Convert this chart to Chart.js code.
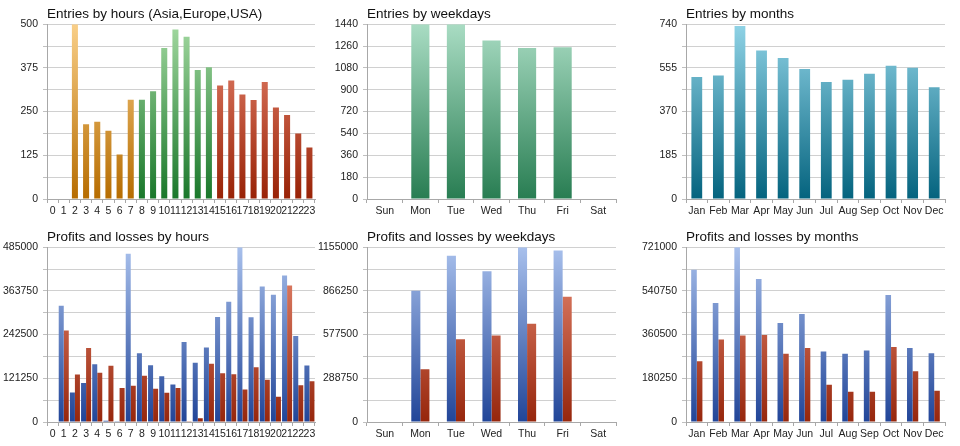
<!DOCTYPE html>
<html>
<head>
<meta charset="utf-8">
<script src="https://cdn.jsdelivr.net/npm/chart.js@4/dist/chart.umd.min.js"></script>
<style>
    body { margin: 0; background: #fff; }
    .panel { position: absolute; }
</style>
</head>
<body>
<div class="panel" style="left:0;top:0;width:320px;height:223px"><canvas id="hoursEntries"></canvas></div>
<div class="panel" style="left:310px;top:0;width:320px;height:223px"><canvas id="weekdaysEntries"></canvas></div>
<div class="panel" style="left:630px;top:0;width:330px;height:223px"><canvas id="monthsEntries"></canvas></div>
<div class="panel" style="left:0;top:223px;width:320px;height:223px"><canvas id="hoursPL"></canvas></div>
<div class="panel" style="left:310px;top:223px;width:320px;height:223px"><canvas id="weekdaysPL"></canvas></div>
<div class="panel" style="left:630px;top:223px;width:330px;height:223px"><canvas id="monthsPL"></canvas></div>
<script>
const hourLabels = ['0','1','2','3','4','5','6','7','8','9','10','11','12','13','14','15','16','17','18','19','20','21','22','23'];
const weekdayLabels = ['Sun','Mon','Tue','Wed','Thu','Fri','Sat'];
const monthLabels = ['Jan','Feb','Mar','Apr','May','Jun','Jul','Aug','Sep','Oct','Nov','Dec'];

// which region each hour belongs to (Asia, Europe, USA)
const hourRegion = ['asia','asia','asia','asia','asia','asia','asia','asia',
    'europe','europe','europe','europe','europe','europe','europe',
    'usa','usa','usa','usa','usa','usa','usa','usa','usa'];

const hourEntries = [0, 0, 500, 214, 221, 195, 127, 284, 284, 308, 432, 485, 464, 369, 377, 325, 339, 299, 283, 335, 262, 240, 187, 147];
const weekdayEntries = [0, 1440, 1440, 1306, 1243, 1251, 0];
const monthEntries = [516, 523, 732, 629, 597, 550, 495, 505, 530, 564, 556, 473];

const hourProfits = [0, 322700, 82000, 107900, 160400, 3700, 1800, 466600, 190900, 157700, 127200, 104200, 222200, 164100, 206500, 291400, 333800, 485000, 290400, 376200, 353100, 406600, 238800, 156700];
const hourLosses = [0, 253600, 131900, 205600, 136500, 155800, 94000, 100500, 128200, 92200, 81100, 94000, 500, 10100, 161400, 135500, 132800, 90400, 152100, 117100, 70100, 379000, 102300, 113400];

const weekdayProfits = [0, 867400, 1097900, 996900, 1155000, 1133000, 0];
const weekdayLosses = [0, 349100, 546800, 570900, 650000, 827800, 0];

const monthProfits = [627800, 490700, 721000, 589400, 408500, 445500, 290600, 281000, 294700, 523600, 305700, 283700];
const monthLosses = [250800, 340000, 356400, 359100, 281000, 305700, 153500, 124700, 124700, 309800, 209700, 128800];

const fontFamily = "'Liberation Sans', Arial, sans-serif";

function vGrad(chart, top, bottom) {
    const a = chart.chartArea;
    if (!a) return bottom;
    const g = chart.ctx.createLinearGradient(0, a.top, 0, a.bottom);
    g.addColorStop(0, top);
    g.addColorStop(1, bottom);
    return g;
}

const palette = {
    asia: ['#f9cf88', '#b66c00'],
    europe: ['#a2d8a0', '#19772a'],
    usa: ['#eb8a74', '#982206'],
    week: ['#a9dcc3', '#287d52'],
    month: ['#90d3e6', '#04637e'],
    blue: ['#a8c0ec', '#214598'],
    red: ['#ea8c74', '#96260c']
};

function makeChart(id, opts) {
    new Chart(document.getElementById(id), {
        type: 'bar',
        data: {
            labels: opts.labels,
            datasets: opts.datasets
        },
        options: {
            responsive: true,
            maintainAspectRatio: false,
            animation: false,
            layout: {
                padding: { left: 0, right: opts.padRight, top: 0, bottom: 0 }
            },
            plugins: {
                legend: { display: false },
                tooltip: { enabled: false },
                title: {
                    display: true,
                    text: opts.title,
                    align: 'start',
                    fullSize: false,
                    color: '#111',
                    font: { family: fontFamily, size: 13.5, weight: 'normal' },
                    padding: { top: 6, bottom: 2 }
                }
            },
            scales: {
                x: {
                    ticks: {
                        color: '#222',
                        font: { family: fontFamily, size: 10.5 },
                        autoSkip: false,
                        maxRotation: 0,
                        padding: 2
                    },
                    grid: {
                        offset: true,
                        drawOnChartArea: false,
                        drawTicks: true,
                        tickLength: 4,
                        color: '#a8a8a8'
                    },
                    border: { color: '#a8a8a8' },
                    afterFit: (scale) => { scale.height = 24; }
                },
                y: {
                    min: 0,
                    max: opts.max,
                    ticks: {
                        stepSize: opts.step,
                        color: '#222',
                        font: { family: fontFamily, size: 10.5 },
                        padding: 5,
                        callback: (v, i) => (opts.every2 && i % 2) ? '' : String(Math.round(v))
                    },
                    grid: {
                        color: '#d0d0d0',
                        tickLength: 4,
                        tickColor: '#c0c0c0'
                    },
                    border: { color: '#a8a8a8' },
                    afterFit: (scale) => { scale.width = opts.axisWidth; }
                }
            }
        }
    });
}

makeChart('hoursEntries', {
    title: 'Entries by hours (Asia,Europe,USA)',
    labels: hourLabels,
    max: 500, step: 62.5, every2: true,
    axisWidth: 47, padRight: 5,
    datasets: [{
        data: hourEntries,
        backgroundColor: (c) => {
            const p = palette[hourRegion[c.dataIndex]];
            return vGrad(c.chart, p[0], p[1]);
        },
        categoryPercentage: 0.54,
        barPercentage: 1
    }]
});

makeChart('weekdaysEntries', {
    title: 'Entries by weekdays',
    labels: weekdayLabels,
    max: 1440, step: 180, every2: false,
    axisWidth: 57, padRight: 14,
    datasets: [{
        data: weekdayEntries,
        backgroundColor: (c) => vGrad(c.chart, palette.week[0], palette.week[1]),
        categoryPercentage: 0.51,
        barPercentage: 1
    }]
});

makeChart('monthsEntries', {
    title: 'Entries by months',
    labels: monthLabels,
    max: 740, step: 92.5, every2: true,
    axisWidth: 56, padRight: 15,
    datasets: [{
        data: monthEntries,
        backgroundColor: (c) => vGrad(c.chart, palette.month[0], palette.month[1]),
        categoryPercentage: 0.5,
        barPercentage: 1
    }]
});

makeChart('hoursPL', {
    title: 'Profits and losses by hours',
    labels: hourLabels,
    max: 485000, step: 60625, every2: true,
    axisWidth: 47, padRight: 5,
    datasets: [{
        data: hourProfits,
        backgroundColor: (c) => vGrad(c.chart, palette.blue[0], palette.blue[1]),
        categoryPercentage: 0.9,
        barPercentage: 1
    }, {
        data: hourLosses,
        backgroundColor: (c) => vGrad(c.chart, palette.red[0], palette.red[1]),
        categoryPercentage: 0.9,
        barPercentage: 1
    }]
});

makeChart('weekdaysPL', {
    title: 'Profits and losses by weekdays',
    labels: weekdayLabels,
    max: 1155000, step: 144375, every2: true,
    axisWidth: 57, padRight: 14,
    datasets: [{
        data: weekdayProfits,
        backgroundColor: (c) => vGrad(c.chart, palette.blue[0], palette.blue[1]),
        categoryPercentage: 0.51,
        barPercentage: 1
    }, {
        data: weekdayLosses,
        backgroundColor: (c) => vGrad(c.chart, palette.red[0], palette.red[1]),
        categoryPercentage: 0.51,
        barPercentage: 1
    }]
});

makeChart('monthsPL', {
    title: 'Profits and losses by months',
    labels: monthLabels,
    max: 721000, step: 90125, every2: true,
    axisWidth: 56, padRight: 15,
    datasets: [{
        data: monthProfits,
        backgroundColor: (c) => vGrad(c.chart, palette.blue[0], palette.blue[1]),
        categoryPercentage: 0.52,
        barPercentage: 1
    }, {
        data: monthLosses,
        backgroundColor: (c) => vGrad(c.chart, palette.red[0], palette.red[1]),
        categoryPercentage: 0.52,
        barPercentage: 1
    }]
});
</script>
</body>
</html>
